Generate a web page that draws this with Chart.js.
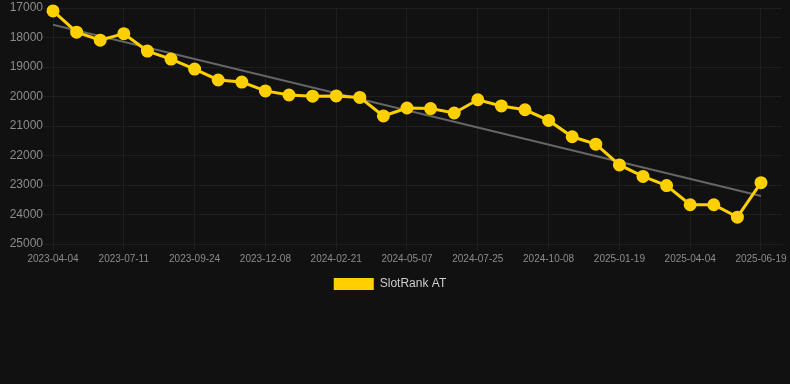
<!DOCTYPE html>
<html>
<head>
<meta charset="utf-8">
<script src="https://cdn.jsdelivr.net/npm/chart.js@4"></script>
<style>
html,body{margin:0;padding:0;background:#111111;}
#wrap{position:relative;width:790px;height:300px;}
</style>
</head>
<body>
<div id="wrap"><canvas id="c"></canvas></div>
<script>
const categories = [
  "2023-04-04","2023-05-07","2023-06-09","2023-07-11","2023-08-05","2023-08-30",
  "2023-09-24","2023-10-19","2023-11-13","2023-12-08","2024-01-02","2024-01-27",
  "2024-02-21","2024-03-17","2024-04-12","2024-05-07","2024-06-02","2024-06-28",
  "2024-07-25","2024-08-19","2024-09-13","2024-10-08","2024-11-11","2024-12-15",
  "2025-01-19","2025-02-13","2025-03-10","2025-04-04","2025-04-29","2025-05-24",
  "2025-06-19"
];
const rankValues = [
  17100,17820,18090,17870,18460,18730,
  19070,19440,19510,19810,19950,19990,
  19980,20030,20660,20390,20410,20560,
  20110,20320,20450,20810,21365,21615,
  22320,22710,23020,23670,23670,24090,
  22920
];
const trendStart = 17570;
const trendEnd = 23370;
const yTicks = [17000,18000,19000,20000,21000,22000,23000,24000,25000];
const xTickIndexes = [0,3,6,9,12,15,18,21,24,27,30];
const xAxisMax = 30.89;
const seriesName = "SlotRank AT";

const lineColor = '#FFD000';
const gridColor = '#1e1e1e';
const points = rankValues.map((v, i) => ({ x: i, y: v }));
const trendPoints = [{ x: 0, y: trendStart }, { x: categories.length - 1, y: trendEnd }];

new Chart(document.getElementById('c'), {
  type: 'line',
  data: {
    datasets: [
      {
        label: seriesName,
        data: points,
        borderColor: lineColor,
        backgroundColor: lineColor,
        borderWidth: 3,
        pointRadius: 5,
        pointHoverRadius: 5,
        pointBackgroundColor: lineColor,
        pointBorderColor: lineColor,
        tension: 0,
        clip: false,
        order: 1
      },
      {
        label: 'trend',
        data: trendPoints,
        borderColor: '#666666',
        borderWidth: 2,
        pointRadius: 0,
        fill: false,
        order: 2
      }
    ]
  },
  options: {
    responsive: true,
    maintainAspectRatio: false,
    animation: false,
    layout: { padding: { left: -10, right: 0, top: 0, bottom: 0 } },
    scales: {
      x: {
        type: 'linear',
        min: 0,
        max: xAxisMax,
        afterBuildTicks: function(axis) { axis.ticks = xTickIndexes.map(v => ({ value: v })); },
        grid: { color: gridColor, tickLength: 6 },
        border: { color: gridColor },
        ticks: {
          color: '#8c8c8c',
          font: { size: 10, family: 'Arial, Helvetica, sans-serif' },
          maxRotation: 0,
          autoSkip: false,
          callback: v => categories[v]
        }
      },
      y: {
        reverse: true,
        min: 17000,
        max: 25000,
        afterBuildTicks: function(axis) { axis.ticks = yTicks.map(v => ({ value: v })); },
        afterFit: function(axis) { axis.width = 63; },
        grid: { color: gridColor, tickLength: 10 },
        border: { color: gridColor },
        ticks: {
          color: '#8c8c8c',
          font: { size: 12, family: 'Arial, Helvetica, sans-serif' },
          padding: 0,
          callback: v => String(v)
        }
      }
    },
    plugins: {
      legend: {
        position: 'bottom',
        labels: {
          color: '#cccccc',
          boxWidth: 40,
          boxHeight: 12,
          font: { size: 12, family: 'Arial, Helvetica, sans-serif' },
          generateLabels: function(chart) {
            const ds = chart.data.datasets[0];
            return [{
              text: ds.label,
              fillStyle: ds.backgroundColor,
              strokeStyle: ds.backgroundColor,
              lineWidth: 0,
              fontColor: '#cccccc',
              hidden: false,
              datasetIndex: 0
            }];
          }
        }
      },
      tooltip: { enabled: false }
    }
  }
});
</script>
</body>
</html>
